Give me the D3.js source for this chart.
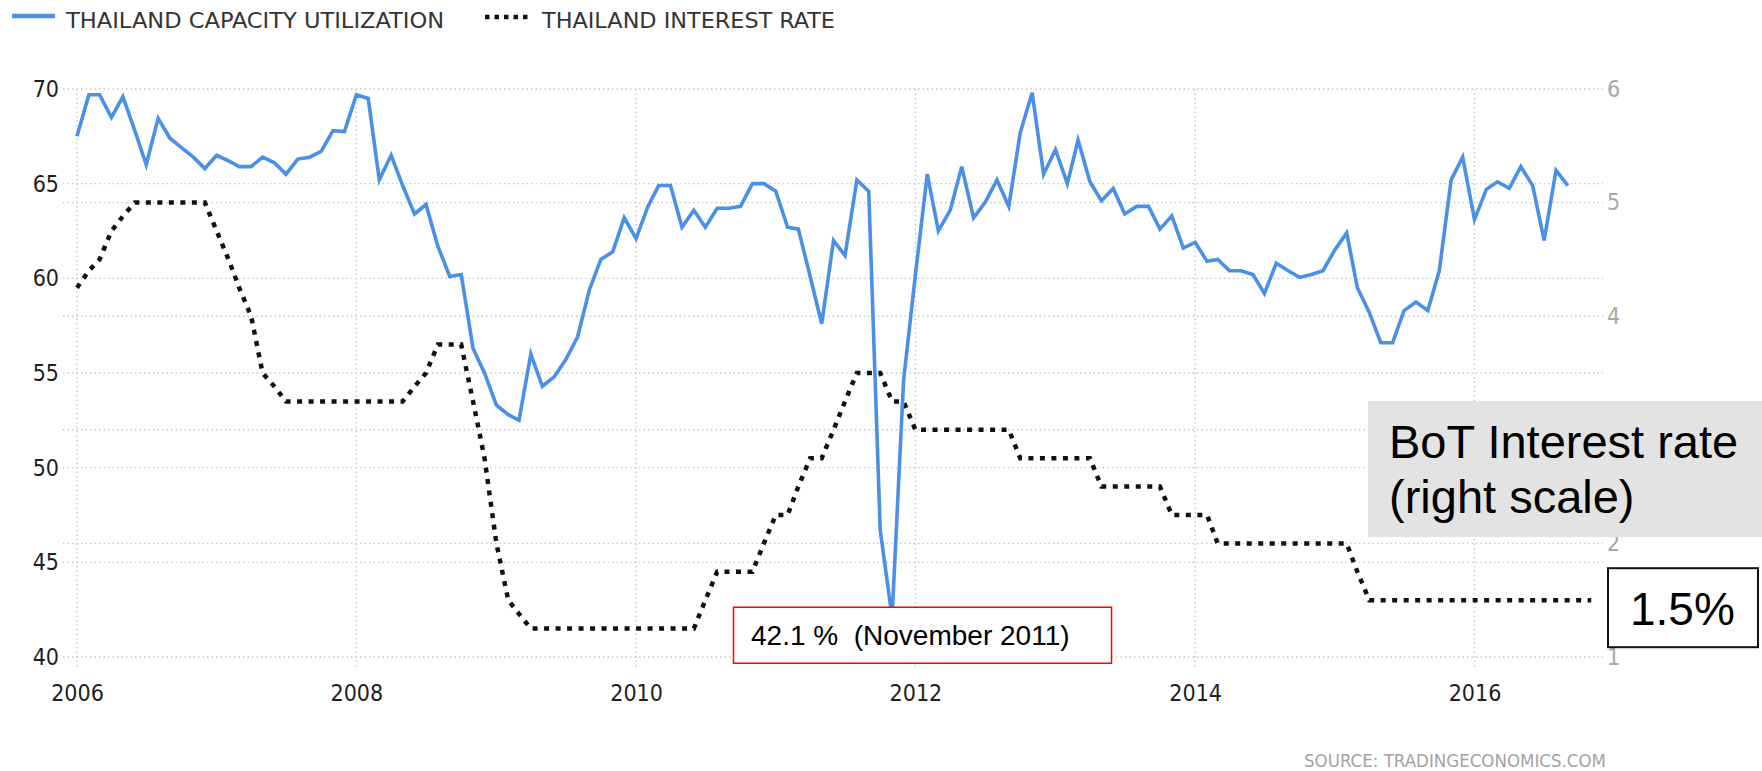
<!DOCTYPE html>
<html>
<head>
<meta charset="utf-8">
<title>Thailand capacity utilization vs interest rate</title>
<script src="https://cdn.jsdelivr.net/npm/d3@7/dist/d3.min.js"></script>
<style>
  body { margin: 0; background: #fff; }
  svg { display: block; }
  .axis text { font-family: "DejaVu Sans Condensed", "DejaVu Sans", sans-serif; font-size: 23px; font-stretch: condensed; }
  .axis path, .axis line { display: none; }
  .legend text { font-family: "DejaVu Sans Condensed", "DejaVu Sans", sans-serif; font-size: 21px; font-stretch: condensed; fill: #333; }
  .note { font-family: "Liberation Sans", Arial, sans-serif; fill: #000; white-space: pre; }
</style>
</head>
<body>
<script>

// monthly values, first one is January 2006
var firstMonth = new Date(2006, 0, 1)

var capacity = [
  67.5, 69.7, 69.7, 68.5, 69.6, 67.8, 66.0, 68.45, 67.4, 66.9, 66.4, 65.8,
  66.5, 66.2, 65.9, 65.9, 66.4, 66.1, 65.5, 66.3, 66.4, 66.7, 67.8, 67.75,
  69.7, 69.5, 65.2, 66.5, 64.9, 63.4, 63.9, 61.7, 60.1, 60.2, 56.3, 55.0,
  53.3, 52.8, 52.5, 56.0, 54.3, 54.8, 55.7, 56.9, 59.4, 61.0, 61.4, 63.2,
  62.1, 63.8, 64.9, 64.9, 62.7, 63.6, 62.7, 63.7, 63.7, 63.8, 65.0, 65.0,
  64.6, 62.7, 62.6, 60.1, 57.6, 62.0, 61.2, 65.2, 64.6, 46.7, 42.1, 54.6,
  60.2, 65.5, 62.5, 63.6, 65.9, 63.2, 64.0, 65.2, 63.8, 67.7, 69.8, 65.5,
  66.8, 65.0, 67.3, 65.1, 64.1, 64.75, 63.4, 63.8, 63.8, 62.6, 63.3, 61.6,
  61.9, 60.9, 61.0, 60.4, 60.4, 60.2, 59.2, 60.8, 60.4, 60.05, 60.2, 60.4,
  61.5, 62.4, 59.5, 58.2, 56.6, 56.6, 58.3, 58.75, 58.3, 60.4, 65.2, 66.4,
  63.1, 64.7, 65.1, 64.75, 65.9, 64.9, 62.0, 65.7, 64.9
]

var interest = [
  4.25, 4.4, 4.5, 4.75, 4.88, 5, 5, 5, 5, 5, 5, 5,
  4.75, 4.5, 4.25, 4, 3.5, 3.38, 3.25, 3.25, 3.25, 3.25, 3.25, 3.25,
  3.25, 3.25, 3.25, 3.25, 3.25, 3.38, 3.5, 3.75, 3.75, 3.75, 3.25, 2.75,
  2, 1.5, 1.38, 1.25, 1.25, 1.25, 1.25, 1.25, 1.25, 1.25, 1.25, 1.25,
  1.25, 1.25, 1.25, 1.25, 1.25, 1.25, 1.5, 1.75, 1.75, 1.75, 1.75, 2,
  2.25, 2.25, 2.5, 2.75, 2.75, 3, 3.25, 3.5, 3.5, 3.5, 3.25, 3.25,
  3, 3, 3, 3, 3, 3, 3, 3, 3, 2.75, 2.75, 2.75,
  2.75, 2.75, 2.75, 2.75, 2.5, 2.5, 2.5, 2.5, 2.5, 2.5, 2.25, 2.25,
  2.25, 2.25, 2, 2, 2, 2, 2, 2, 2, 2, 2, 2,
  2, 2, 1.75, 1.5, 1.5, 1.5, 1.5, 1.5, 1.5, 1.5, 1.5, 1.5,
  1.5, 1.5, 1.5, 1.5, 1.5, 1.5, 1.5, 1.5, 1.5, 1.5, 1.5
]

var leftTicks = [40, 45, 50, 55, 60, 65, 70]
var rightTicks = [1, 2, 3, 4, 5, 6]
var rightLabels = [1, 2, 4, 5, 6]   // "3" sits under the note box
var yearTicks = [2006, 2008, 2010, 2012, 2014, 2016]
var seriesNames = ['THAILAND CAPACITY UTILIZATION', 'THAILAND INTEREST RATE']
var lowLabel = '42.1 %  (November 2011)'
var lastRateLabel = '1.5%'
var rateNote = ['BoT Interest rate', '(right scale)']
var sourceLabel = 'SOURCE: TRADINGECONOMICS.COM'

var W = 1762, H = 771
var gridL = 63, gridR = 1603

var svg = d3.select('body').append('svg')
  .attr('width', W)
  .attr('height', H)

var x = d3.scaleTime()
  .domain([new Date(2006, 0, 1), new Date(2016, 0, 1)])
  .range([77, 1474.5])
var yL = d3.scaleLinear().domain([40, 70]).range([657, 89])
var yR = d3.scaleLinear().domain([1, 6]).range([657, 89])

function monthOf(i) { return d3.timeMonth.offset(firstMonth, i) }

// grid
var grid = svg.append('g')
  .attr('stroke', '#c6c6c6')
  .attr('stroke-width', 1.4)
  .attr('stroke-dasharray', '1.5,3')

grid.selectAll('.hl').data(leftTicks)
  .enter().append('line')
    .attr('x1', gridL).attr('x2', gridR)
    .attr('y1', function(d) { return yL(d) }).attr('y2', function(d) { return yL(d) })

grid.selectAll('.hr').data(rightTicks.filter(function(d) { return d > 1 && d < 6 }))
  .enter().append('line')
    .attr('x1', gridL).attr('x2', gridR)
    .attr('y1', function(d) { return yR(d) }).attr('y2', function(d) { return yR(d) })

grid.selectAll('.v').data(yearTicks)
  .enter().append('line')
    .attr('x1', function(d) { return x(new Date(d, 0, 1)) })
    .attr('x2', function(d) { return x(new Date(d, 0, 1)) })
    .attr('y1', yL(70)).attr('y2', yL(40) + 10)

// axes
var axL = svg.append('g').attr('class', 'axis')
  .attr('transform', 'translate(59,0)')
  .call(d3.axisLeft(yL).tickValues(leftTicks).tickSize(0).tickPadding(0))
axL.selectAll('text').attr('fill', '#1e1e1e')

var axR = svg.append('g').attr('class', 'axis')
  .attr('transform', 'translate(1607,0)')
  .call(d3.axisRight(yR).tickValues(rightLabels).tickFormat(d3.format('d'))
    .tickSize(0).tickPadding(0))
axR.selectAll('text').attr('fill', '#a8a8a8')

var axB = svg.append('g').attr('class', 'axis')
  .attr('transform', 'translate(0,685)')
  .call(d3.axisBottom(x)
    .tickValues(yearTicks.map(function(d) { return new Date(d, 0, 1) }))
    .tickFormat(d3.timeFormat('%Y'))
    .tickSize(0).tickPadding(0))
axB.selectAll('text').attr('fill', '#1e1e1e')

// lines
var rateLine = d3.line()
  .x(function(d, i) { return x(monthOf(i)) })
  .y(function(d) { return yR(d) })

svg.append('path')
  .datum(interest)
  .attr('d', rateLine)
  .attr('fill', 'none')
  .attr('stroke', '#111')
  .attr('stroke-width', 4.5)
  .attr('stroke-dasharray', '5,6.5')

var capLine = d3.line()
  .x(function(d, i) { return x(monthOf(i)) })
  .y(function(d) { return yL(d) })

svg.append('path')
  .datum(capacity)
  .attr('d', capLine)
  .attr('fill', 'none')
  .attr('stroke', '#4a90e6')
  .attr('stroke-width', 3.6)
  .attr('stroke-linejoin', 'miter')

// legend
var lg = svg.append('g').attr('class', 'legend')
lg.append('line')
  .attr('x1', 12).attr('x2', 55).attr('y1', 16).attr('y2', 16)
  .attr('stroke', '#4a90e6').attr('stroke-width', 4.5)
lg.append('text').attr('x', 66).attr('y', 28)
  .attr('textLength', 378).attr('lengthAdjust', 'spacingAndGlyphs')
  .text(seriesNames[0])
lg.append('line')
  .attr('x1', 485).attr('x2', 531).attr('y1', 17).attr('y2', 17)
  .attr('stroke', '#111').attr('stroke-width', 4.5)
  .attr('stroke-dasharray', '4.5,5')
lg.append('text').attr('x', 542).attr('y', 28)
  .attr('textLength', 293).attr('lengthAdjust', 'spacingAndGlyphs')
  .text(seriesNames[1])

// low point note
var lowIdx = capacity.indexOf(d3.min(capacity))
var lowY = yL(capacity[lowIdx])
svg.append('rect')
  .attr('x', 733.5).attr('y', lowY - 10)
  .attr('width', 378).attr('height', 56)
  .attr('fill', '#fff').attr('stroke', '#ff0000').attr('stroke-width', 1.5)
svg.append('text').attr('class', 'note')
  .attr('x', 751).attr('y', lowY + 28)
  .attr('font-size', 28)
  .text(lowLabel)

// right scale note
svg.append('rect')
  .attr('x', 1368).attr('y', 401)
  .attr('width', W - 1368).attr('height', 136)
  .attr('fill', '#e3e3e3')
svg.append('text').attr('class', 'note')
  .attr('font-size', 47)
  .selectAll('tspan').data(rateNote)
  .enter().append('tspan')
    .attr('x', 1389)
    .attr('y', function(d, i) { return 458 + i * 55 })
    .text(function(d) { return d })

// last rate box
var lastY = yR(interest[interest.length - 1])
svg.append('rect')
  .attr('x', 1608).attr('y', lastY - 32)
  .attr('width', 150).attr('height', 79)
  .attr('fill', '#fff').attr('stroke', '#111').attr('stroke-width', 2)
svg.append('text').attr('class', 'note')
  .attr('x', 1630).attr('y', lastY + 25)
  .attr('font-size', 46)
  .text(lastRateLabel)

// source
svg.append('text')
  .attr('x', 1304).attr('y', 767)
  .attr('font-family', '"DejaVu Sans Condensed", "DejaVu Sans", sans-serif')
  .attr('font-size', 17)
  .attr('fill', '#a3a3a3')
  .attr('textLength', 302).attr('lengthAdjust', 'spacingAndGlyphs')
  .text(sourceLabel)

</script>
</body>
</html>
